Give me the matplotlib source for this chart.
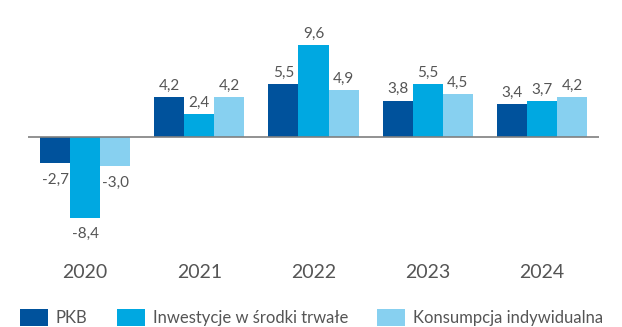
import numpy as np
import matplotlib.pyplot as plt
from matplotlib.patches import Patch

years = ['2020', '2021', '2022', '2023', '2024']
pkb = [-2.7, 4.2, 5.5, 3.8, 3.4]
inwestycje = [-8.4, 2.4, 9.6, 5.5, 3.7]
konsumpcja = [-3.0, 4.2, 4.9, 4.5, 4.2]
series_names = ['PKB', 'Inwestycje w środki trwałe', 'Konsumpcja indywidualna']

colors = ['#00529C', '#00A8E1', '#87D0F0']
text_color = '#555555'

plt.rcParams['font.family'] = ['Lato', 'DejaVu Sans']

fig = plt.figure(figsize=(6.22, 3.27), dpi=100)
ax = fig.add_axes([28 / 622, 1 - 233 / 327, 571 / 622, 211.2 / 327])

x = np.arange(len(years))
w = 0.263
for k, (vals, col) in enumerate(zip([pkb, inwestycje, konsumpcja], colors)):
    pos = x + (k - 1) * w
    bars = ax.bar(pos, vals, width=w, color=col, edgecolor='none')
    for b, v in zip(bars, vals):
        label = f'{v:.1f}'.replace('.', ',')
        if v >= 0:
            ax.annotate(label, (b.get_x() + w / 2, v), xytext=(0, 3),
                        textcoords='offset points', ha='center', va='bottom',
                        fontsize=11, color=text_color)
        else:
            ax.annotate(label, (b.get_x() + w / 2, v), xytext=(0, -7),
                        textcoords='offset points', ha='center', va='top',
                        fontsize=11, color=text_color)

ax.axhline(0, color='#7f7f7f', lw=1.2)
ax.set_xlim(-0.5, len(years) - 0.5)
ax.set_ylim(-10, 12)
ax.set_yticks([])
ax.set_xticks(x)
ax.set_xticklabels(years, fontsize=14, color=text_color)
ax.tick_params(axis='x', length=0, pad=22)
for s in ax.spines.values():
    s.set_visible(False)

handles = [Patch(facecolor=c, edgecolor='none') for c in colors]
fig.legend(handles, series_names, loc='lower left', bbox_to_anchor=(20 / 622, 1 / 327),
           ncol=3, frameon=False, fontsize=12, labelcolor=text_color,
           handlelength=1.7, handleheight=1.2, handletextpad=0.45,
           columnspacing=1.75, borderpad=0, borderaxespad=0)

fig.savefig('out.png', dpi=100)
